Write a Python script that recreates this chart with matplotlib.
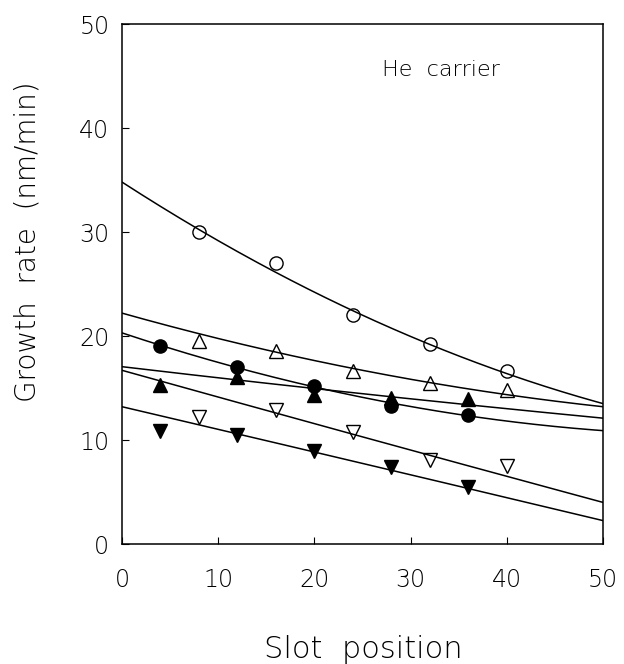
"""Growth rate vs slot position, He carrier."""

import matplotlib
matplotlib.use("Agg")
import matplotlib.pyplot as plt
import numpy as np

# slot positions for each series
x_odd = [4, 12, 20, 28, 36]
x_even = [8, 16, 24, 32, 40]

# growth rates (nm/min)
open_circle = [30.0, 27.0, 22.0, 19.2, 16.6]
open_up = [19.5, 18.6, 16.6, 15.5, 14.8]
filled_circle = [19.0, 17.0, 15.2, 13.3, 12.4]
filled_up = [15.3, 16.1, 14.3, 14.0, 13.9]
open_down = [12.2, 12.9, 10.8, 8.1, 7.5]
filled_down = [10.9, 10.5, 8.9, 7.4, 5.5]

# fitted curves read at slot 0, 25 and 50
fit_x = [0, 25, 50]
fit_start = [34.8, 22.2, 20.3, 17.05, 16.7, 13.2]
fit_mid = [22.0, 16.7, 14.1, 14.45, 10.3, 7.75]
fit_end = [13.5, 13.2, 10.9, 12.1, 4.0, 2.25]

series = [
    (x_even, open_circle, "o", "none"),
    (x_even, open_up, "^", "none"),
    (x_odd, filled_circle, "o", "black"),
    (x_odd, filled_up, "^", "black"),
    (x_even, open_down, "v", "none"),
    (x_odd, filled_down, "v", "black"),
]

plt.rcParams["font.family"] = "DejaVu Sans"
plt.rcParams["font.weight"] = "light"

W, H = 624, 664
fig = plt.figure(figsize=(W / 100, H / 100), dpi=100)
ax = fig.add_axes([122 / W, 1 - 544 / H, 481 / W, 520 / H])

xs = np.linspace(0, 50, 200)
for a, m, b in zip(fit_start, fit_mid, fit_end):
    coef = np.polyfit(fit_x, [a, m, b], 2)
    ax.plot(xs, np.polyval(coef, xs), color="black", lw=1.1)

for xv, yv, mk, fc in series:
    ax.plot(xv, yv, linestyle="none", marker=mk, markersize=9.5,
            markerfacecolor=fc, markeredgecolor="black", markeredgewidth=1.0)

ax.text(27.0, 45.6, "He  carrier", fontsize=16, va="center", ha="left")

ax.set_xlim(0, 50)
ax.set_ylim(0, 50)
ax.set_xticks([0, 10, 20, 30, 40, 50])
ax.set_yticks([0, 10, 20, 30, 40, 50])
ax.tick_params(axis="x", direction="in", length=5, pad=17, labelsize=17)
ax.tick_params(axis="y", direction="in", length=5, pad=9, labelsize=17)
for s in ax.spines.values():
    s.set_linewidth(1.1)

fig.text(363 / W, 1 - 658 / H, "Slot  position", fontsize=22,
         ha="center", va="baseline")
fig.text(28 / W, 1 - 242 / H, "Growth  rate  (nm/min)", fontsize=20,
         ha="center", va="center", rotation=90)

fig.savefig("out.png", dpi=100)
